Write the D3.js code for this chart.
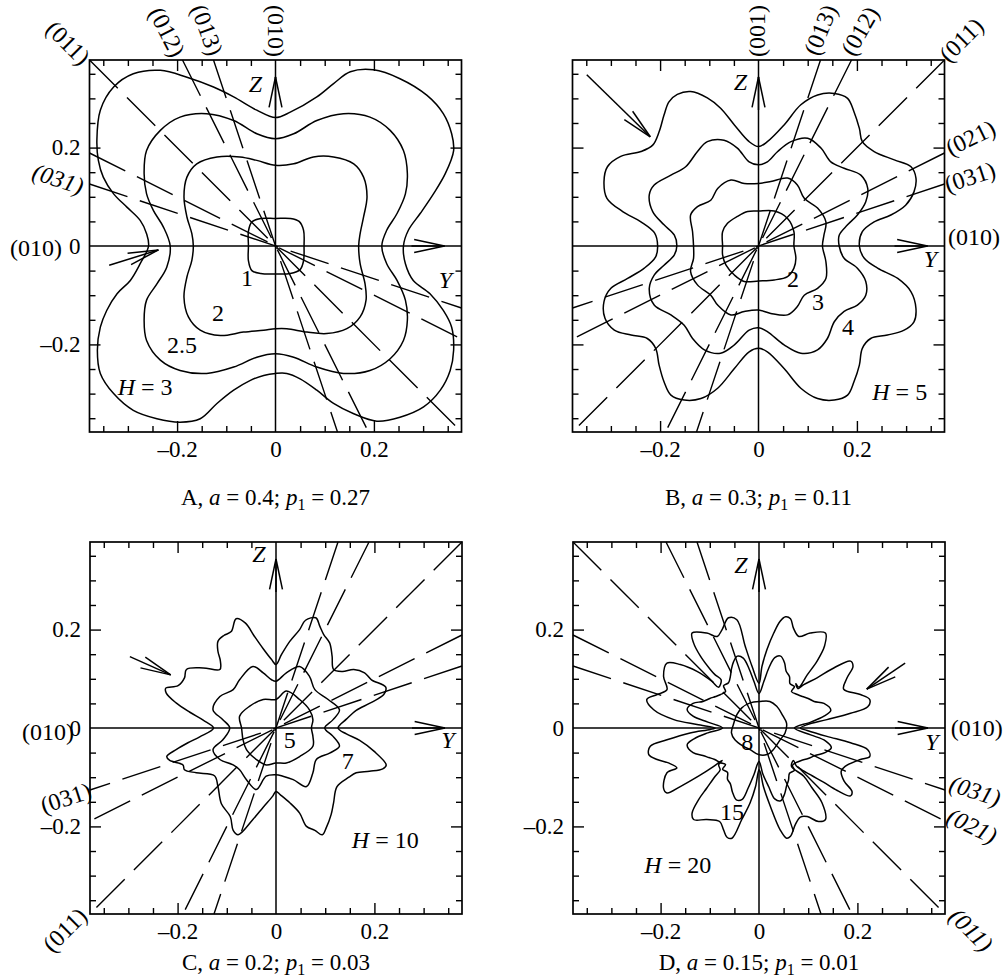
<!DOCTYPE html>
<html>
<head>
<meta charset="utf-8">
<script src="https://cdn.jsdelivr.net/npm/d3@7"></script>
<style>
body { margin: 0; background: #fff; }
svg, svg text { font-family: "Liberation Serif", "Times New Roman", serif; fill: #000; }
</style>
</head>
<body>
<svg id="fig" width="1006" height="979"></svg>
<script>
// ---- data -------------------------------------------------------------
var LIM = 0.378;
var minor_ticks = [-0.35, -0.3, -0.25, -0.15, -0.1, -0.05, 0.05, 0.1, 0.15, 0.25, 0.3, 0.35];
var major_ticks = [-0.2, 0.2];
var label_ticks = [-0.2, 0, 0.2];

var caption_letters = ["A", "B", "C", "D"];
var a_values = ["0.4", "0.3", "0.2", "0.15"];
var p1_values = ["0.27", "0.11", "0.03", "0.01"];
var h_values = ["3", "5", "10", "20"];

// crystal directions drawn as dashed lines, [dy, dz]
var dirs_neg = [[-1, 3], [-1, 2], [-1, 1], [-2, 1], [-3, 1]];
var dirs_pos = [[1, 3], [1, 2], [1, 1], [2, 1], [3, 1]];

// contours, [y, z]
var a_c1 = [[0,0.056],[0.030,0.056],[0.048,0.050],[0.057,0.032],[0.058,0],[0.057,-0.030],[0.050,-0.048],[0.030,-0.056],[0,-0.057],[-0.030,-0.056],[-0.048,-0.050],[-0.055,-0.030],[-0.055,0],[-0.055,0.030],[-0.048,0.049],[-0.030,0.056]];
var a_c2 = [[0,0.164],[0.037,0.167],[0.077,0.181],[0.118,0.181],[0.159,0.167],[0.179,0.140],[0.186,0.100],[0.179,0.059],[0.172,0.025],[0.169,0],
  [0.172,-0.036],[0.182,-0.077],[0.184,-0.110],[0.172,-0.144],[0.145,-0.168],[0.104,-0.178],[0.064,-0.175],[0.023,-0.168],[0,-0.168],
  [-0.024,-0.171],[-0.065,-0.175],[-0.112,-0.182],[-0.153,-0.171],[-0.177,-0.144],[-0.186,-0.104],[-0.180,-0.063],[-0.170,-0.029],[-0.167,0],
  [-0.170,0.025],[-0.180,0.059],[-0.186,0.100],[-0.180,0.140],[-0.160,0.167],[-0.119,0.181],[-0.072,0.181],[-0.038,0.174]];
var a_c3 = [[0,0.218],[0.037,0.228],[0.084,0.255],[0.138,0.269],[0.192,0.262],[0.233,0.235],[0.260,0.194],[0.268,0.147],[0.264,0.106],[0.247,0.066],[0.226,0.032],[0.216,0],
  [0.226,-0.036],[0.247,-0.070],[0.264,-0.110],[0.268,-0.151],[0.260,-0.192],[0.233,-0.229],[0.192,-0.253],[0.138,-0.259],[0.084,-0.246],[0.037,-0.226],[0,-0.219],
  [-0.038,-0.226],[-0.085,-0.246],[-0.140,-0.259],[-0.194,-0.253],[-0.234,-0.232],[-0.262,-0.192],[-0.267,-0.151],[-0.262,-0.110],[-0.241,-0.077],[-0.221,-0.043],[-0.214,0],
  [-0.228,0.039],[-0.248,0.072],[-0.262,0.106],[-0.267,0.147],[-0.262,0.194],[-0.234,0.235],[-0.194,0.262],[-0.140,0.269],[-0.085,0.255],[-0.038,0.228]];
var a_c4 = [[0,0.261],[0.030,0.272],[0.084,0.303],[0.118,0.330],[0.152,0.354],[0.199,0.358],[0.253,0.340],[0.308,0.306],[0.341,0.269],[0.358,0.228],[0.362,0.194],[0.345,0.147],[0.321,0.106],[0.294,0.066],[0.270,0.032],[0.260,0],
  [0.264,-0.036],[0.280,-0.070],[0.314,-0.097],[0.341,-0.131],[0.358,-0.165],[0.362,-0.212],[0.355,-0.253],[0.335,-0.293],[0.301,-0.327],[0.253,-0.348],[0.206,-0.356],[0.159,-0.341],[0.118,-0.320],[0.084,-0.293],[0.050,-0.270],[0.023,-0.259],[0,-0.259],
  [-0.024,-0.263],[-0.051,-0.273],[-0.085,-0.293],[-0.119,-0.320],[-0.153,-0.351],[-0.194,-0.358],[-0.241,-0.351],[-0.289,-0.334],[-0.329,-0.300],[-0.356,-0.259],[-0.362,-0.212],[-0.356,-0.165],[-0.343,-0.131],[-0.322,-0.097],[-0.295,-0.070],[-0.275,-0.036],[-0.258,0],
  [-0.262,0.025],[-0.275,0.052],[-0.302,0.079],[-0.329,0.106],[-0.350,0.140],[-0.360,0.174],[-0.363,0.215],[-0.356,0.276],[-0.329,0.323],[-0.289,0.350],[-0.234,0.357],[-0.180,0.343],[-0.126,0.323],[-0.085,0.303],[-0.038,0.276]];

var b_c1 = [[0,0.071],[0.032,0.071],[0.059,0.056],[0.072,0.029],[0.072,0],[0.076,-0.025],[0.072,-0.045],[0.059,-0.062],[0.032,-0.069],[0,-0.071],[-0.029,-0.072],[-0.049,-0.059],[-0.066,-0.039],[-0.073,-0.018],[-0.073,0],[-0.073,0.029],[-0.063,0.046],[-0.043,0.060],[-0.022,0.070]];
var b_c2 = [[0,0.127],[0.025,0.131],[0.059,0.138],[0.079,0.124],[0.093,0.097],[0.120,0.077],[0.137,0.049],[0.133,0.022],[0.130,0],[0.137,-0.032],[0.137,-0.066],[0.120,-0.086],[0.093,-0.100],[0.079,-0.123],[0.059,-0.140],[0.025,-0.137],[0,-0.130],
  [-0.029,-0.133],[-0.056,-0.140],[-0.083,-0.120],[-0.097,-0.100],[-0.124,-0.079],[-0.138,-0.052],[-0.132,-0.025],[-0.132,0],[-0.134,0.029],[-0.138,0.063],[-0.124,0.080],[-0.097,0.093],[-0.083,0.117],[-0.056,0.134],[-0.029,0.127]];
var b_c3 = [[0,0.165],[0.018,0.171],[0.039,0.192],[0.066,0.212],[0.100,0.219],[0.127,0.199],[0.147,0.171],[0.174,0.158],[0.208,0.144],[0.222,0.117],[0.218,0.090],[0.201,0.063],[0.181,0.043],[0.164,0.022],[0.164,0],
  [0.174,-0.025],[0.201,-0.045],[0.218,-0.072],[0.218,-0.100],[0.201,-0.120],[0.174,-0.133],[0.154,-0.154],[0.140,-0.188],[0.120,-0.211],[0.086,-0.218],[0.052,-0.201],[0.018,-0.174],[0,-0.166],
  [-0.019,-0.171],[-0.049,-0.201],[-0.077,-0.218],[-0.110,-0.211],[-0.134,-0.188],[-0.151,-0.161],[-0.178,-0.140],[-0.212,-0.120],[-0.222,-0.086],[-0.212,-0.059],[-0.192,-0.039],[-0.171,-0.018],[-0.166,0],
  [-0.171,0.022],[-0.192,0.043],[-0.215,0.070],[-0.222,0.104],[-0.212,0.124],[-0.178,0.144],[-0.148,0.161],[-0.124,0.192],[-0.104,0.212],[-0.070,0.215],[-0.043,0.199],[-0.019,0.171]];
var b_c4 = [[0,0.202],[0.018,0.212],[0.052,0.246],[0.086,0.287],[0.120,0.307],[0.154,0.310],[0.181,0.300],[0.194,0.273],[0.205,0.239],[0.211,0.212],[0.235,0.192],[0.276,0.175],[0.310,0.161],[0.320,0.138],[0.316,0.110],[0.299,0.083],[0.269,0.063],[0.235,0.049],[0.211,0.029],[0.205,0],
  [0.215,-0.025],[0.242,-0.045],[0.283,-0.066],[0.310,-0.093],[0.320,-0.127],[0.316,-0.154],[0.296,-0.171],[0.262,-0.181],[0.228,-0.188],[0.211,-0.208],[0.205,-0.242],[0.194,-0.276],[0.181,-0.303],[0.154,-0.313],[0.120,-0.310],[0.086,-0.289],[0.052,-0.249],[0.018,-0.215],[0,-0.208],
  [-0.019,-0.215],[-0.049,-0.249],[-0.083,-0.289],[-0.117,-0.310],[-0.151,-0.313],[-0.178,-0.303],[-0.192,-0.276],[-0.202,-0.242],[-0.209,-0.208],[-0.226,-0.188],[-0.259,-0.181],[-0.293,-0.171],[-0.312,-0.147],[-0.314,-0.113],[-0.300,-0.086],[-0.266,-0.066],[-0.232,-0.045],[-0.209,-0.022],[-0.205,0],
  [-0.211,0.026],[-0.239,0.049],[-0.276,0.070],[-0.308,0.097],[-0.314,0.131],[-0.307,0.161],[-0.280,0.182],[-0.239,0.192],[-0.215,0.205],[-0.202,0.232],[-0.192,0.266],[-0.182,0.293],[-0.165,0.308],[-0.138,0.314],[-0.104,0.301],[-0.077,0.280],[-0.049,0.246],[-0.019,0.212]];

var c_c1 = [[0,0.058],[0.021,0.075],[0.048,0.058],[0.068,0.037],[0.075,0.017],[0.072,0],[0.075,-0.017],[0.075,-0.037],[0.048,-0.058],[0.021,-0.071],[0,-0.071],[-0.020,-0.075],[-0.040,-0.064],[-0.060,-0.044],[-0.067,-0.024],[-0.070,0],[-0.074,0.024],[-0.054,0.044],[-0.026,0.058]];
var c_c2 = [[0,0.095],[0.021,0.112],[0.048,0.125],[0.068,0.105],[0.079,0.078],[0.106,0.058],[0.129,0.037],[0.116,0.017],[0.099,0],[0.116,-0.017],[0.129,-0.037],[0.109,-0.051],[0.082,-0.064],[0.075,-0.091],[0.062,-0.119],[0.035,-0.105],[0.014,-0.098],[0,-0.095],
  [-0.020,-0.098],[-0.040,-0.125],[-0.060,-0.105],[-0.074,-0.085],[-0.087,-0.075],[-0.114,-0.064],[-0.128,-0.044],[-0.108,-0.024],[-0.094,0],[-0.108,0.017],[-0.128,0.037],[-0.114,0.064],[-0.087,0.078],[-0.074,0.098],[-0.047,0.125],[-0.026,0.112],[-0.009,0.098]];
var c_c3 = [[0,0.129],[0.011,0.149],[0.028,0.176],[0.048,0.200],[0.060,0.219],[0.081,0.224],[0.089,0.207],[0.097,0.190],[0.109,0.173],[0.114,0.146],[0.117,0.119],[0.135,0.115],[0.158,0.119],[0.180,0.112],[0.194,0.098],[0.223,0.083],[0.219,0.068],[0.192,0.051],[0.163,0.036],[0.143,0.018],[0.126,0],
  [0.143,-0.012],[0.170,-0.025],[0.199,-0.047],[0.224,-0.075],[0.217,-0.083],[0.190,-0.088],[0.163,-0.091],[0.148,-0.100],[0.124,-0.119],[0.117,-0.152],[0.112,-0.176],[0.102,-0.203],[0.094,-0.217],[0.079,-0.208],[0.062,-0.200],[0.048,-0.173],[0.028,-0.152],[0.009,-0.136],[0,-0.129],
  [-0.007,-0.139],[-0.026,-0.161],[-0.047,-0.186],[-0.077,-0.217],[-0.087,-0.208],[-0.093,-0.180],[-0.111,-0.154],[-0.118,-0.119],[-0.125,-0.097],[-0.162,-0.091],[-0.186,-0.085],[-0.189,-0.075],[-0.216,-0.066],[-0.222,-0.058],[-0.203,-0.044],[-0.179,-0.030],[-0.155,-0.018],[-0.127,0],
  [-0.148,0.016],[-0.175,0.032],[-0.203,0.051],[-0.223,0.071],[-0.224,0.081],[-0.199,0.086],[-0.186,0.102],[-0.182,0.119],[-0.148,0.122],[-0.114,0.119],[-0.113,0.136],[-0.118,0.156],[-0.118,0.176],[-0.106,0.188],[-0.091,0.196],[-0.081,0.222],[-0.062,0.213],[-0.045,0.188],[-0.026,0.161],[-0.009,0.139]];

var d_c1 = [[-0.045,0.027],[-0.035,0.041],[-0.018,0.051],[0.002,0.054],[0.022,0.054],[0.036,0.044],[0.049,0.024],[0.056,0.010],[0.053,-0.010],[0.043,-0.024],[0.029,-0.044],[0.016,-0.054],[-0.001,-0.054],[-0.018,-0.044],[-0.032,-0.037],[-0.049,-0.024],[-0.056,-0.010],[-0.052,0.007]];
var d_c2 = [[0,0.070],[0.010,0.095],[0.020,0.122],[0.032,0.143],[0.044,0.146],[0.052,0.132],[0.055,0.116],[0.062,0.104],[0.063,0.090],[0.072,0.084],[0.066,0.074],[0.078,0.068],[0.088,0.064],[0.100,0.060],[0.112,0.054],[0.132,0.050],[0.146,0.036],[0.132,0.024],[0.105,0.012],[0.072,0],
  [0.105,-0.014],[0.135,-0.026],[0.147,-0.040],[0.134,-0.050],[0.114,-0.056],[0.100,-0.062],[0.086,-0.066],[0.076,-0.070],[0.068,-0.076],[0.072,-0.086],[0.062,-0.092],[0.060,-0.106],[0.056,-0.118],[0.052,-0.134],[0.044,-0.148],[0.032,-0.144],[0.020,-0.120],[0.008,-0.094],[0,-0.068],
  [-0.010,-0.094],[-0.022,-0.122],[-0.034,-0.145],[-0.046,-0.146],[-0.054,-0.130],[-0.058,-0.114],[-0.064,-0.104],[-0.064,-0.090],[-0.074,-0.084],[-0.068,-0.074],[-0.080,-0.070],[-0.090,-0.064],[-0.102,-0.060],[-0.114,-0.056],[-0.134,-0.050],[-0.146,-0.034],[-0.132,-0.022],[-0.104,-0.010],[-0.074,0],
  [-0.104,0.012],[-0.134,0.024],[-0.146,0.038],[-0.134,0.050],[-0.114,0.054],[-0.100,0.060],[-0.088,0.064],[-0.078,0.068],[-0.068,0.074],[-0.072,0.086],[-0.062,0.092],[-0.058,0.106],[-0.056,0.120],[-0.052,0.134],[-0.044,0.146],[-0.032,0.142],[-0.020,0.120],[-0.010,0.094]];
var d_c3 = [[0,0.091],[0.006,0.125],[0.016,0.159],[0.030,0.193],[0.043,0.217],[0.054,0.226],[0.064,0.222],[0.070,0.203],[0.081,0.186],[0.104,0.193],[0.135,0.193],[0.133,0.166],[0.118,0.136],[0.098,0.108],[0.081,0.083],[0.075,0.090],[0.079,0.080],[0.091,0.088],[0.118,0.102],[0.152,0.122],[0.186,0.136],[0.191,0.125],[0.179,0.102],[0.172,0.079],[0.206,0.068],[0.225,0.058],[0.221,0.043],[0.186,0.030],[0.138,0.017],[0.098,0.007],[0.084,0],
  [0.098,-0.005],[0.138,-0.017],[0.186,-0.030],[0.221,-0.044],[0.225,-0.058],[0.206,-0.064],[0.175,-0.078],[0.167,-0.088],[0.173,-0.108],[0.189,-0.129],[0.186,-0.138],[0.159,-0.127],[0.131,-0.110],[0.108,-0.097],[0.087,-0.085],[0.076,-0.077],[0.070,-0.066],[0.066,-0.078],[0.091,-0.098],[0.108,-0.122],[0.128,-0.152],[0.135,-0.186],[0.121,-0.190],[0.098,-0.180],[0.084,-0.181],[0.074,-0.196],[0.064,-0.220],[0.056,-0.224],[0.043,-0.207],[0.023,-0.159],[0.009,-0.119],[0.003,-0.091],[0,-0.085],
  [-0.007,-0.119],[-0.018,-0.152],[-0.035,-0.186],[-0.055,-0.224],[-0.065,-0.222],[-0.072,-0.207],[-0.080,-0.190],[-0.106,-0.186],[-0.133,-0.186],[-0.136,-0.173],[-0.123,-0.146],[-0.106,-0.122],[-0.089,-0.098],[-0.079,-0.085],[-0.082,-0.075],[-0.075,-0.066],[-0.092,-0.078],[-0.123,-0.098],[-0.160,-0.119],[-0.187,-0.132],[-0.194,-0.122],[-0.187,-0.091],[-0.167,-0.081],[-0.184,-0.071],[-0.207,-0.064],[-0.224,-0.054],[-0.221,-0.037],[-0.187,-0.024],[-0.140,-0.010],[-0.099,-0.003],[-0.089,0],
  [-0.126,0.007],[-0.173,0.017],[-0.214,0.037],[-0.228,0.058],[-0.207,0.068],[-0.187,0.078],[-0.194,0.105],[-0.187,0.132],[-0.160,0.129],[-0.126,0.115],[-0.096,0.095],[-0.082,0.083],[-0.077,0.098],[-0.089,0.108],[-0.099,0.119],[-0.119,0.146],[-0.133,0.173],[-0.136,0.193],[-0.106,0.193],[-0.085,0.186],[-0.075,0.200],[-0.062,0.224],[-0.045,0.220],[-0.028,0.166],[-0.014,0.125]];

// contour level labels, [y, z, text]
var a_labels = [[-0.058, -0.081, "1"], [-0.117, -0.152, "2"], [-0.190, -0.217, "2.5"]];
var b_labels = [[0.070, -0.083, "2"], [0.121, -0.130, "3"], [0.182, -0.181, "4"]];
var c_labels = [[0.028, -0.041, "5"], [0.146, -0.083, "7"]];
var d_labels = [[-0.024, -0.045, "8"], [-0.055, -0.187, "15"]];
var h_pos = [[-0.265, -0.303], [0.287, -0.313], [0.222, -0.244], [-0.165, -0.295]];

// pointer arrows, [y1, z1, y2(tip), z2(tip)]
var a_arrow = [-0.338, -0.039, -0.238, -0.008];
var b_arrow = [-0.349, 0.348, -0.220, 0.222];
var c_arrow = [-0.297, 0.145, -0.214, 0.108];
var d_arrow = [0.297, 0.132, 0.219, 0.079];

// ---- layout -----------------------------------------------------------
var SIZE = 372;
var FONT = '"Liberation Serif", "Times New Roman", serif';
var panels = [
  { x0: 89.5, y0: 60, cap_y: 505, left: true, dirs: dirs_neg, contours: [a_c1, a_c2, a_c3, a_c4], labels: a_labels, arrow: a_arrow,
    z_lab: [-20, 32], y_lab: [-16, 42],
    dir_text: [["(011)", -21.5, -17, 45, false], ["(012)", 77.5, -28, 63, false], ["(013)", 117.5, -30, 70, false], ["(010)", 186.5, -29, 90, false],
               ["(031)", -31.5, 119, 18, true], ["(010)", -53.5, 188, 0, false]] },
  { x0: 572.5, y0: 60, cap_y: 505, left: false, dirs: dirs_pos, contours: [b_c1, b_c2, b_c3, b_c4], labels: b_labels, arrow: b_arrow,
    z_lab: [-18, 30], y_lab: [-14, 21],
    dir_text: [["(001)", 184, -29, -90, false], ["(013)", 248, -30, -68, false], ["(012)", 287.5, -29, -60, false], ["(011)", 389, -20, -45, false],
               ["(021)", 398, 78, -26, false], ["(031)", 397.5, 117, -18, false], ["(010)", 401.5, 177, 0, false]] },
  { x0: 90, y0: 542, cap_y: 970, left: true, dirs: dirs_pos, contours: [c_c1, c_c2, c_c3], labels: c_labels, arrow: c_arrow,
    z_lab: [-17, 20], y_lab: [-14, 20],
    dir_text: [["(010)", -42, 190, 0, false], ["(031)", -24, 256, -18, false], ["(011)", -25, 388, -45, false]] },
  { x0: 573, y0: 542, cap_y: 970, left: true, dirs: dirs_neg, contours: [d_c1, d_c2, d_c3], labels: d_labels, arrow: d_arrow,
    z_lab: [-18, 31], y_lab: [-13, 22],
    dir_text: [["(010)", 403.7, 186, 0, false], ["(031)", 402, 249, 18, true], ["(021)", 399, 284, 26, true], ["(011)", 398, 388, 45, true]] }
];

var svg = d3.select("#fig");

function tick_text(v) {
  return v < 0 ? "\u2013" + Math.abs(v) : String(v);
}

function open_arrow(g, x1, y1, x2, y2, len, ang) {
  // shaft plus two barbs at the tip
  var a = Math.atan2(y1 - y2, x1 - x2);
  var r = ang * Math.PI / 180;
  g.append("line").attr("x1", x1).attr("y1", y1).attr("x2", x2).attr("y2", y2);
  [a - r, a + r].forEach(function(b) {
    g.append("line").attr("x1", x2).attr("y1", y2)
      .attr("x2", x2 + len * Math.cos(b)).attr("y2", y2 + len * Math.sin(b));
  });
}

function draw_panel(p, i) {
  var g = svg.append("g");
  var sx = d3.scaleLinear().domain([-LIM, LIM]).range([p.x0, p.x0 + SIZE]);
  var sy = d3.scaleLinear().domain([-LIM, LIM]).range([p.y0 + SIZE, p.y0]);
  var cx = sx(0), cy = sy(0);

  // inward ticks on all four sides
  function ticks(axis, tr, vals, len) {
    var a = g.append("g").attr("transform", tr)
      .call(axis.tickValues(vals).tickSizeInner(-len).tickSizeOuter(0).tickFormat(""));
    a.select(".domain").remove();
    a.selectAll("line").attr("stroke", "#000").attr("stroke-width", 1.4);
  }
  [[minor_ticks, 6], [major_ticks, 11]].forEach(function(t) {
    ticks(d3.axisBottom(sx), "translate(0," + (p.y0 + SIZE) + ")", t[0], t[1]);
    ticks(d3.axisTop(sx), "translate(0," + p.y0 + ")", t[0], t[1]);
    ticks(d3.axisLeft(sy), "translate(" + p.x0 + ",0)", t[0], t[1]);
    ticks(d3.axisRight(sy), "translate(" + (p.x0 + SIZE) + ",0)", t[0], t[1]);
  });

  // tick labels
  var bx = g.append("g").attr("transform", "translate(0," + (p.y0 + SIZE) + ")")
    .call(d3.axisBottom(sx).tickValues(label_ticks).tickSize(0).tickPadding(9).tickFormat(tick_text));
  bx.attr("font-family", FONT).attr("font-size", 23);
  bx.select(".domain").remove();
  if (p.left) {
    var lx = g.append("g").attr("transform", "translate(" + p.x0 + ",0)")
      .call(d3.axisLeft(sy).tickValues(label_ticks).tickSize(0).tickPadding(9).tickFormat(tick_text));
    lx.attr("font-family", FONT).attr("font-size", 23);
    lx.select(".domain").remove();
  }

  // frame
  g.append("rect").attr("x", p.x0).attr("y", p.y0).attr("width", SIZE).attr("height", SIZE)
    .attr("fill", "none").attr("stroke", "#000").attr("stroke-width", 1.7);

  // dashed crystal directions through the origin
  p.dirs.forEach(function(d) {
    var t = LIM / Math.max(Math.abs(d[0]), Math.abs(d[1]));
    g.append("line")
      .attr("x1", sx(d[0] * t)).attr("y1", sy(d[1] * t))
      .attr("x2", sx(-d[0] * t)).attr("y2", sy(-d[1] * t))
      .attr("stroke", "#000").attr("stroke-width", 1.4).attr("stroke-dasharray", "40,13");
  });

  // Y and Z axes
  var ax = g.append("g").attr("stroke", "#000").attr("stroke-width", 1.5).attr("fill", "none");
  ax.append("line").attr("x1", sx(-LIM)).attr("y1", cy).attr("x2", sx(LIM)).attr("y2", cy);
  ax.append("line").attr("x1", cx).attr("y1", sy(LIM)).attr("x2", cx).attr("y2", sy(-LIM));
  open_arrow(ax, cx, p.y0 + 50, cx, p.y0 + 17, 31, 12);
  open_arrow(ax, p.x0 + SIZE - 50, cy, p.x0 + SIZE - 17, cy, 31, 12);

  g.append("text").attr("x", cx + p.z_lab[0]).attr("y", p.y0 + p.z_lab[1]).attr("text-anchor", "middle")
    .style("font-family", FONT).style("font-size", "24px").style("font-style", "italic").text("Z");
  g.append("text").attr("x", p.x0 + SIZE + p.y_lab[0]).attr("y", cy + p.y_lab[1]).attr("text-anchor", "middle")
    .style("font-family", FONT).style("font-size", "24px").style("font-style", "italic").text("Y");

  // contours
  var line = d3.line().x(function(d) { return sx(d[0]); }).y(function(d) { return sy(d[1]); })
    .curve(d3.curveCatmullRomClosed.alpha(0.5));
  g.selectAll("path.contour").data(p.contours).join("path").attr("class", "contour")
    .attr("d", line).attr("fill", "none").attr("stroke", "#000").attr("stroke-width", 1.5);

  // pointer arrow
  var pa = g.append("g").attr("stroke", "#000").attr("stroke-width", 1.5);
  open_arrow(pa, sx(p.arrow[0]), sy(p.arrow[1]), sx(p.arrow[2]), sy(p.arrow[3]), 31, 11);

  // level labels
  g.selectAll("text.lev").data(p.labels).join("text").attr("class", "lev")
    .attr("x", function(d) { return sx(d[0]); }).attr("y", function(d) { return sy(d[1]); })
    .attr("text-anchor", "middle").style("font-family", FONT).style("font-size", "24px")
    .text(function(d) { return d[2]; });

  var h = g.append("text").attr("x", sx(h_pos[i][0])).attr("y", sy(h_pos[i][1]))
    .attr("text-anchor", "middle").style("font-family", FONT).style("font-size", "24px");
  h.append("tspan").style("font-style", "italic").text("H");
  h.append("tspan").text(" = " + h_values[i]);

  // direction labels
  p.dir_text.forEach(function(t) {
    var x = p.x0 + t[1], y = p.y0 + t[2];
    g.append("text").attr("x", x).attr("y", y)
      .attr("text-anchor", "middle").attr("dominant-baseline", "central")
      .attr("transform", "rotate(" + t[3] + "," + x + "," + y + ")")
      .style("font-family", FONT).style("font-size", "24px")
      .style("font-style", t[4] ? "italic" : "normal").text(t[0]);
  });

  // caption
  var c = g.append("text").attr("x", cx).attr("y", p.cap_y).attr("text-anchor", "middle")
    .style("font-family", FONT).style("font-size", "23px");
  c.append("tspan").text(caption_letters[i] + ", ");
  c.append("tspan").style("font-style", "italic").text("a");
  c.append("tspan").text(" = " + a_values[i] + "; ");
  c.append("tspan").style("font-style", "italic").text("p");
  c.append("tspan").attr("dy", 5).style("font-size", "16px").text("1");
  c.append("tspan").attr("dy", -5).text(" = " + p1_values[i]);
}

panels.forEach(draw_panel);
</script>
</body>
</html>
